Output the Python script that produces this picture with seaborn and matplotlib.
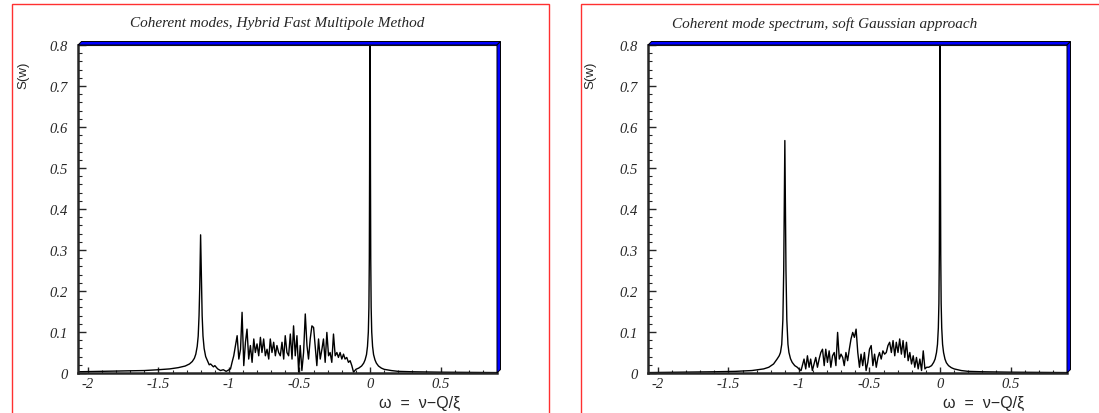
import numpy as np
import pandas as pd
import matplotlib
matplotlib.use("Agg")
import matplotlib.pyplot as plt
from matplotlib.patches import Polygon, Rectangle
from matplotlib.ticker import MultipleLocator, FixedLocator, FixedFormatter
import seaborn as sns

# ---------------------------------------------------------------- data
# Hybrid Fast Multipole Method spectrum S(w)
hfmm_x = [-2.07, -1.9, -1.75, -1.6, -1.5, -1.42, -1.36, -1.31, -1.28, -1.26,
          -1.245, -1.235, -1.225, -1.218, -1.212, -1.207, -1.203, -1.201,
          -1.199, -1.195, -1.19, -1.184, -1.176, -1.165, -1.15, -1.14,
          -1.13, -1.11, -1.10, -1.08, -1.06, -1.04, -1.02, -1.0,
          -0.989, -0.978, -0.966, -0.954, -0.942, -0.930, -0.918, -0.907, -0.895, -0.883,
          -0.872, -0.860, -0.848, -0.836, -0.824, -0.813, -0.801, -0.789, -0.777, -0.766,
          -0.754, -0.742, -0.730, -0.718, -0.707, -0.695, -0.683, -0.671, -0.660, -0.648,
          -0.636, -0.624, -0.612, -0.601, -0.589, -0.577, -0.565, -0.553, -0.542, -0.530,
          -0.518, -0.506, -0.495, -0.483, -0.471, -0.459, -0.447, -0.436, -0.424, -0.412,
          -0.400, -0.389, -0.377, -0.365, -0.353, -0.341, -0.330, -0.318, -0.306, -0.294,
          -0.283, -0.271, -0.259, -0.247, -0.235, -0.224, -0.212, -0.200, -0.188, -0.177,
          -0.165, -0.153, -0.141, -0.129, -0.117,
          -0.10, -0.08, -0.06, -0.045, -0.035, -0.025, -0.018, -0.012, -0.008,
          -0.005, -0.003, -0.001, 0.0, 0.001, 0.003, 0.005, 0.008, 0.012, 0.018,
          0.025, 0.035, 0.045, 0.06, 0.08, 0.10, 0.15, 0.2, 0.3, 0.5, 0.7, 0.9]
hfmm_s = [0.003, 0.004, 0.005, 0.006, 0.008, 0.010, 0.013, 0.017, 0.022, 0.028,
          0.036, 0.046, 0.065, 0.09, 0.14, 0.21, 0.29, 0.337,
          0.30, 0.22, 0.14, 0.09, 0.06, 0.04, 0.028, 0.020,
          0.022, 0.015, 0.018, 0.010, 0.006, 0.008, 0.004, 0.008,
          0.010, 0.026, 0.042, 0.067, 0.091, 0.034, 0.058, 0.148, 0.018, 0.075,
          0.107, 0.034, 0.067, 0.026, 0.083, 0.050, 0.071, 0.042, 0.087, 0.050,
          0.083, 0.042, 0.058, 0.034, 0.083, 0.050, 0.075, 0.042, 0.067, 0.050,
          0.042, 0.075, 0.034, 0.091, 0.050, 0.042, 0.095, 0.034, 0.115, 0.042,
          0.091, 0.002, 0.067, 0.006, 0.050, 0.144, 0.067, 0.034, 0.083, 0.115,
          0.111, 0.067, 0.018, 0.083, 0.034, 0.058, 0.083, 0.026, 0.099, 0.042,
          0.050, 0.026, 0.095, 0.042, 0.050, 0.038, 0.050, 0.034, 0.046, 0.034,
          0.038, 0.026, 0.030, 0.018, 0.002,
          0.009, 0.012, 0.017, 0.024, 0.032, 0.045, 0.065, 0.10, 0.16,
          0.28, 0.50, 0.90, 1.60, 0.90, 0.50, 0.28, 0.16, 0.10, 0.065,
          0.045, 0.032, 0.024, 0.017, 0.012, 0.009, 0.006, 0.004, 0.003, 0.002, 0.0015, 0.001]

# soft Gaussian approach spectrum S(w)
gauss_x = [-2.07, -1.8, -1.6, -1.45, -1.333, -1.25, -1.214, -1.18, -1.155, -1.14,
           -1.131, -1.122, -1.114, -1.108, -1.104, -1.1, -1.096, -1.092, -1.086,
           -1.078, -1.071, -1.06, -1.048, -1.03, -1.012, -0.995, -0.985,
           -0.976, -0.964, -0.952, -0.940, -0.928, -0.917, -0.905, -0.893, -0.881, -0.869,
           -0.857, -0.845, -0.833, -0.821, -0.810, -0.798, -0.786, -0.774, -0.762, -0.750,
           -0.738, -0.726, -0.714, -0.702, -0.690, -0.679, -0.667, -0.655, -0.643, -0.631,
           -0.619, -0.607, -0.595, -0.583, -0.571, -0.560, -0.548, -0.536, -0.524, -0.512,
           -0.500, -0.488, -0.476, -0.464, -0.452, -0.440, -0.429, -0.417, -0.405, -0.393,
           -0.381, -0.369, -0.357, -0.345, -0.333, -0.321, -0.310, -0.298, -0.286, -0.274,
           -0.262, -0.250, -0.238, -0.226, -0.214, -0.202, -0.190, -0.179, -0.167, -0.155,
           -0.143, -0.131, -0.119, -0.107, -0.095,
           -0.08, -0.06, -0.045, -0.035, -0.025, -0.018, -0.012, -0.008,
           -0.005, -0.003, -0.001, 0.0, 0.001, 0.003, 0.005, 0.008, 0.012, 0.018,
           0.025, 0.035, 0.045, 0.06, 0.08, 0.10, 0.15, 0.2, 0.3, 0.5, 0.7, 0.9]
gauss_s = [0.001, 0.002, 0.003, 0.004, 0.006, 0.010, 0.014, 0.022, 0.034, 0.042,
           0.050, 0.070, 0.13, 0.25, 0.40, 0.567, 0.40, 0.25, 0.13,
           0.070, 0.050, 0.035, 0.026, 0.018, 0.014, 0.008, 0.006,
           0.018, 0.034, 0.010, 0.042, 0.014, 0.034, 0.006, 0.022, 0.038, 0.014,
           0.034, 0.050, 0.058, 0.018, 0.058, 0.026, 0.054, 0.014, 0.042, 0.050,
           0.018, 0.099, 0.034, 0.046, 0.038, 0.018, 0.050, 0.030, 0.058, 0.083,
           0.099, 0.087, 0.107, 0.050, 0.014, 0.046, 0.018, 0.050, 0.006, 0.026,
           0.058, 0.067, 0.018, 0.046, 0.014, 0.038, 0.050, 0.034, 0.054, 0.046,
           0.050, 0.067, 0.075, 0.050, 0.079, 0.042, 0.075, 0.050, 0.083, 0.046,
           0.079, 0.038, 0.075, 0.030, 0.050, 0.022, 0.042, 0.014, 0.038, 0.010,
           0.034, 0.006, 0.054, 0.010, 0.014,
           0.014, 0.018, 0.026, 0.034, 0.050, 0.070, 0.11, 0.17,
           0.29, 0.52, 0.92, 1.60, 0.92, 0.52, 0.29, 0.17, 0.11, 0.07,
           0.05, 0.034, 0.025, 0.018, 0.013, 0.010, 0.006, 0.004, 0.003, 0.002, 0.0015, 0.001]

titles = ["Coherent modes, Hybrid Fast Multipole Method",
          "Coherent mode spectrum, soft Gaussian approach"]
x_ticks = [-2, -1.5, -1, -0.5, 0, 0.5]
x_tick_labels = ["-2", "-1.5", "-1", "-0.5", "0", "0.5"]
y_ticks = [0, 0.1, 0.2, 0.3, 0.4, 0.5, 0.6, 0.7, 0.8]
y_tick_labels = ["0", "0.1", "0.2", "0.3", "0.4", "0.5", "0.6", "0.7", "0.8"]

# ---------------------------------------------------------------- style
sns.set_style("ticks")
plt.rcParams["font.family"] = ["Liberation Serif", "DejaVu Serif"]

W, H = 1099, 414
fig = plt.figure(figsize=(W / 100, H / 100), dpi=100)
fig.patch.set_facecolor("white")

# pad borders
for x0, x1 in [(12, 549), (581, 1110)]:
    fig.add_artist(Rectangle((x0 / W, 0 - 0.1), (x1 - x0) / W, 1 - 5 / H + 0.1,
                             transform=fig.transFigure, fill=False,
                             edgecolor="#ff3030", lw=1.0))

panels = [
    dict(x=hfmm_x, s=hfmm_s, left=78, title=titles[0], tx=277, ylx=23, xlx=420),
    dict(x=gauss_x, s=gauss_s, left=648, title=titles[1], tx=825, ylx=590, xlx=984),
]

ax_w, ax_b, ax_h = 419, 40, 328
serif_it = dict(family=["Liberation Serif", "DejaVu Serif"], style="italic")
sans = ["Liberation Sans", "DejaVu Sans"]

for p in panels:
    ax = fig.add_axes([p["left"] / W, ax_b / H, ax_w / W, ax_h / H])
    df = pd.DataFrame({"w": p["x"], "S": p["s"]})
    sns.lineplot(data=df, x="w", y="S", ax=ax, color="black", lw=1.0,
                 estimator=None, sort=False)
    ax.set_xlim(-2.07, 0.9)
    ax.set_ylim(0, 0.8)
    ax.set_xlabel("")
    ax.set_ylabel("")

    ax.xaxis.set_major_locator(FixedLocator(x_ticks))
    ax.xaxis.set_major_formatter(FixedFormatter(x_tick_labels))
    ax.xaxis.set_minor_locator(MultipleLocator(0.1))
    ax.yaxis.set_major_locator(FixedLocator(y_ticks))
    ax.yaxis.set_major_formatter(FixedFormatter(y_tick_labels))
    ax.yaxis.set_minor_locator(MultipleLocator(0.02))
    ax.tick_params(axis="x", which="major", direction="in", length=4.5, width=1,
                   pad=3, labelsize=10.5)
    ax.tick_params(axis="x", which="minor", direction="in", length=2.2, width=0.8)
    ax.tick_params(axis="y", which="major", direction="in", length=6, width=1,
                   pad=7, labelsize=10.5)
    ax.tick_params(axis="y", which="minor", direction="in", length=3, width=0.8)
    for lab in ax.get_xticklabels() + ax.get_yticklabels():
        lab.set_fontstyle("italic")

    for side in ["left", "bottom"]:
        ax.spines[side].set_linewidth(1.8)
    for side in ["top", "right"]:
        ax.spines[side].set_linewidth(0.8)

    # 3D frame bevel along the top and right edges
    dx, dy = 3.5 / ax_w, 3.5 / ax_h
    top = Polygon([(0, 1), (dx, 1 + dy), (1 + dx, 1 + dy), (1, 1)], closed=True,
                  transform=ax.transAxes, facecolor="#0000ff", edgecolor="black",
                  lw=0.7, clip_on=False, zorder=5)
    right = Polygon([(1, 0), (1 + dx, dy), (1 + dx, 1 + dy), (1, 1)], closed=True,
                    transform=ax.transAxes, facecolor="#0000ff", edgecolor="black",
                    lw=0.7, clip_on=False, zorder=5)
    ax.add_patch(top)
    ax.add_patch(right)

    fig.text(p["tx"] / W, 1 - 24 / H, p["title"], ha="center", va="center",
             fontsize=11, **serif_it)
    fig.text(p["ylx"] / W, 1 - 75 / H, "S(w)", rotation=90, ha="center",
             va="center", fontsize=9.5, family=sans)
    fig.text(p["xlx"] / W, 1 - 403 / H, "ω  =  ν−Q/ξ", ha="center", va="center",
             fontsize=11.5, family=sans)

fig.savefig("out.png", dpi=100, facecolor="white")
